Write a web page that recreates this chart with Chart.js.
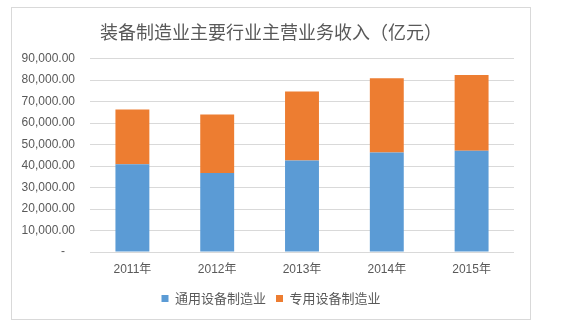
<!DOCTYPE html>
<html>
<head>
<meta charset="utf-8">
<script src="https://cdn.jsdelivr.net/npm/chart.js@4/dist/chart.umd.min.js"></script>
<style>
  html, body { margin: 0; padding: 0; background: #ffffff; }
  #wrap { width: 564px; height: 326px; position: relative; }
</style>
</head>
<body>
<div id="wrap"><canvas id="c" width="564" height="326"></canvas></div>
<script>
// Years on the category axis
const years = ['2011年', '2012年', '2013年', '2014年', '2015年'];
// Main business revenue (亿元), stacked by industry
const generalEquipment = [40870, 36810, 42590, 46320, 47060];
const specialEquipment = [25480, 27210, 32150, 34480, 35280];
const seriesNames = ['通用设备制造业', '专用设备制造业'];
const chartTitle = '装备制造业主要行业主营业务收入（亿元）';
const yMax = 90000;
const yStep = 10000;

const textColor = '#595959';
const gridColor = '#d9d9d9';
const fontFamily = "'Liberation Sans', 'Noto Sans CJK SC', sans-serif";

// Thin frame around the whole chart
const framePlugin = {
  id: 'frame',
  beforeDraw(chart) {
    const ctx = chart.ctx;
    ctx.save();
    ctx.fillStyle = '#ffffff';
    ctx.fillRect(0, 0, chart.width, chart.height);
    ctx.strokeStyle = gridColor;
    ctx.lineWidth = 1;
    ctx.strokeRect(11.5, 7.5, 519, 312);
    ctx.restore();
  }
};

new Chart(document.getElementById('c'), {
  type: 'bar',
  data: {
    labels: years,
    datasets: [
      { label: seriesNames[0], data: generalEquipment, backgroundColor: '#5B9BD5', borderWidth: 0 },
      { label: seriesNames[1], data: specialEquipment, backgroundColor: '#ED7D31', borderWidth: 0 }
    ]
  },
  options: {
    responsive: false,
    animation: false,
    layout: { padding: { left: 11, right: 33, top: 7, bottom: 11 } },
    datasets: { bar: { categoryPercentage: 0.4, barPercentage: 1 } },
    plugins: {
      title: {
        display: true,
        text: chartTitle,
        color: textColor,
        font: { family: "'Noto Sans CJK SC', sans-serif", size: 18, weight: 'normal' },
        padding: { top: 14, bottom: 16 }
      },
      legend: {
        position: 'bottom',
        labels: {
          color: textColor,
          font: { family: "'Noto Sans CJK SC', sans-serif", size: 13 },
          boxWidth: 7,
          boxHeight: 7,
          padding: 10
        }
      },
      tooltip: { enabled: false }
    },
    scales: {
      x: {
        stacked: true,
        grid: { display: false, drawTicks: false },
        border: { display: false },
        ticks: { color: textColor, font: { family: fontFamily, size: 12 }, padding: 10 },
        afterFit(scale) { scale.height = 30; }
      },
      y: {
        stacked: true,
        min: 0,
        max: yMax,
        grid: { color: gridColor, drawTicks: false },
        border: { display: false },
        ticks: {
          stepSize: yStep,
          color: textColor,
          font: { family: fontFamily, size: 12 },
          padding: 15,
          callback(v) {
            return v === 0 ? '-   ' : v.toLocaleString('en-US', { minimumFractionDigits: 2, maximumFractionDigits: 2 });
          }
        },
        afterFit(scale) { scale.width = 79; }
      },
      yRight: {
        position: 'right',
        display: true,
        grid: { display: false, drawTicks: false },
        border: { display: false },
        ticks: { display: false },
        afterFit(scale) { scale.width = 17; }
      }
    }
  },
  plugins: [framePlugin]
});
</script>
</body>
</html>
